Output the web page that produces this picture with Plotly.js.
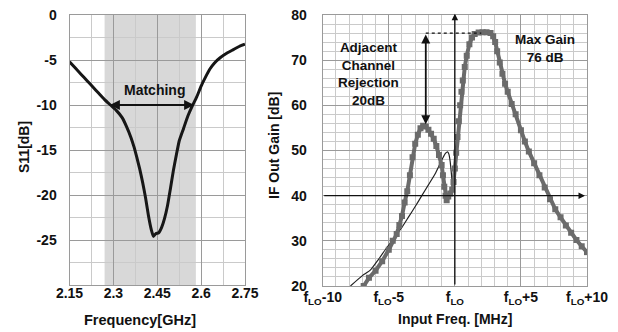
<!DOCTYPE html>
<html>
<head>
<meta charset="utf-8">
<script src="https://cdn.plot.ly/plotly-3.0.1.min.js"></script>
<style>html,body{margin:0;padding:0;background:#fff;}#chart{width:618px;height:332px;}
.xtick text,.ytick text,.x2tick text,.y2tick text{font-weight:700 !important;}</style>
</head>
<body>
<div id="chart"></div>
<script>
// ---- Left panel: S11 vs frequency ----
const s11Freq = [2.15,2.17,2.19,2.21,2.23,2.25,2.27,2.29,2.31,2.33,2.345,2.36,2.37,2.38,2.39,2.40,2.41,2.42,2.43,2.437,2.445,2.455,2.465,2.475,2.485,2.495,2.505,2.515,2.525,2.54,2.555,2.57,2.585,2.60,2.615,2.63,2.645,2.665,2.69,2.71,2.73,2.75];
const s11dB   = [-5.2,-5.9,-6.6,-7.3,-8.0,-8.7,-9.4,-10.0,-10.6,-11.4,-12.4,-13.6,-14.6,-15.8,-17.1,-18.6,-20.3,-22.3,-23.9,-24.6,-24.3,-24.2,-23.6,-22.6,-21.2,-19.3,-17.3,-15.6,-14.0,-12.6,-11.2,-10.1,-9.1,-7.9,-6.9,-6.0,-5.35,-4.75,-4.2,-3.85,-3.5,-3.25];
const freqTicks = [2.15,2.3,2.45,2.6,2.75];
const freqTickText = ["2.15","2.3","2.45","2.6","2.75"];
const s11Ticks = [0,-5,-10,-15,-20,-25];
const s11TickText = ["0","-5","-10","-15","-20","-25"];
const matchBand = [2.27, 2.582];
const matchLevel = -10;
const matchArrow = [2.283, 2.576];

// ---- Right panel: IF output gain vs input frequency ----
const measOffset = [-6.9,-6.5,-6.0,-5.5,-5.0,-4.7,-4.4,-4.2,-4.0,-3.8,-3.6,-3.4,-3.2,-3.0,-2.8,-2.6,-2.4,-2.2,-2.0,-1.8,-1.6,-1.4,-1.2,-1.0,-0.9,-0.8,-0.7,-0.62,-0.5,-0.35,-0.2,-0.1,0.0,0.1,0.2,0.3,0.4,0.5,0.6,0.75,0.9,1.1,1.3,1.5,1.8,2.1,2.4,2.7,2.9,3.05,3.2,3.4,3.6,3.8,4.0,4.3,4.6,5.0,5.3,5.6,6.0,6.4,6.8,7.2,7.6,8.0,8.4,8.8,9.2,9.6,10.0];
const measGain   = [20,21.8,23.4,25.5,28.0,30.0,31.5,33.5,35.5,38.5,41.0,44.5,48.5,51.5,53.5,54.9,55.5,55.3,54.6,53.7,52.6,51.0,49.0,46.8,44.5,42.0,40.0,39.0,39.8,40.5,41.3,43.0,46.0,49.5,53.0,56.5,60.0,63.0,65.5,68.5,71.0,73.5,75.0,75.8,76.1,76.2,76.2,76.0,75.3,74.0,72.0,69.5,67.0,64.8,63.0,60.3,58.0,54.5,52.0,49.8,47.2,44.5,41.8,39.2,37.0,35.2,33.4,31.8,30.2,28.8,27.5];
const simOffset  = [-7.9,-7.0,-6.4,-5.8,-5.2,-4.6,-4.0,-3.5,-3.0,-2.5,-2.0,-1.5,-1.15,-0.9,-0.7,-0.55,-0.45,-0.35,-0.25,-0.15,-0.05,0.05,0.12];
const simGain    = [20,22.3,23.5,25.8,28.3,30.6,33.0,35.3,37.6,40.0,42.4,44.8,46.9,48.4,49.4,49.7,49.2,47.5,44.5,41.8,42.5,47.0,51.0];
const ifTicks = [-10,-5,0,5,10];
const ifTickText = ["f<sub>LO</sub>-10","f<sub>LO</sub>-5","f<sub>LO</sub>","f<sub>LO</sub>+5","f<sub>LO</sub>+10"];
const gainTicks = [20,30,40,50,60,70,80];
const gainTickText = ["20","30","40","50","60","70","80"];
const maxGain = 76;
const adjPeak = 55.8;
const refX = -2.2;
const flatEnd = 2.0;

const FONT = "Liberation Sans, Arial, sans-serif";
const MAJ = "#9a9a9a", MIN = "#cacaca";
const W = 618, H = 332;
const px = v => v / W, py = v => (H - v) / H;
const bold = arr => arr.map(s => "<b>" + s + "</b>");

function axisBase(extra) {
  return Object.assign({
    showgrid: true, gridcolor: MAJ, gridwidth: 1,
    zeroline: false, showline: true, linecolor: MAJ, linewidth: 1, mirror: true,
    ticks: "", fixedrange: true,
    tickfont: {family: FONT, size: 14, color: "#111", weight: 700}
  }, extra);
}

const traces = [
  {x: s11Freq, y: s11dB, xaxis: "x", yaxis: "y", mode: "lines",
   line: {color: "#161616", width: 3, shape: "spline", smoothing: 0.4}, hoverinfo: "skip"},
  {x: simOffset, y: simGain, xaxis: "x2", yaxis: "y2", mode: "lines",
   line: {color: "#222", width: 1.2, shape: "spline", smoothing: 0.5}, hoverinfo: "skip"},
  {x: measOffset, y: measGain, xaxis: "x2", yaxis: "y2", mode: "lines+markers",
   line: {color: "#6b6b6b", width: 4},
   marker: {symbol: "square", size: 6, color: "#6b6b6b"}, hoverinfo: "skip"}
];

const txt = (o) => Object.assign({showarrow: false, xanchor: "center", yanchor: "middle"}, o);

const layout = {
  width: W, height: H,
  margin: {l: 0, r: 0, t: 0, b: 0},
  paper_bgcolor: "#fff", plot_bgcolor: "#fff",
  showlegend: false,
  font: {family: FONT, color: "#111"},
  xaxis: axisBase({domain: [px(69.5), px(245)], range: [2.15, 2.75],
    tickvals: freqTicks, ticktext: bold(freqTickText), ticklabelstandoff: -5,
    minor: {tick0: 2.15, dtick: 0.075, showgrid: true, gridcolor: MIN, gridwidth: 1}}),
  yaxis: axisBase({domain: [py(285), py(15)], range: [-30, 0],
    tickvals: s11Ticks, ticktext: bold(s11TickText), ticklabelstandoff: 9,
    minor: {tick0: 0, dtick: 2.5, showgrid: true, gridcolor: MIN, gridwidth: 1}}),
  xaxis2: axisBase({anchor: "y2", domain: [px(322.7), px(587)], range: [-10, 10],
    tickvals: ifTicks, ticktext: bold(ifTickText), ticklabelstandoff: -2,
    minor: {tick0: -10, dtick: 1, showgrid: true, gridcolor: MIN, gridwidth: 1}}),
  yaxis2: axisBase({anchor: "x2", domain: [py(286), py(15)], range: [20, 80],
    tickvals: gainTicks, ticktext: bold(gainTickText), ticklabelstandoff: 12,
    minor: {tick0: 20, dtick: 2, showgrid: true, gridcolor: MIN, gridwidth: 1}}),
  shapes: [
    {type: "rect", xref: "x", yref: "y", x0: matchBand[0], x1: matchBand[1], y0: -30, y1: 0,
     fillcolor: "#d8d8d8", line: {width: 0}, layer: "below"},
    {type: "line", xref: "x2", yref: "y2", x0: refX, x1: flatEnd, y0: maxGain, y1: maxGain,
     line: {color: "#111", width: 1.2, dash: "dot"}}
  ],
  annotations: [
    // left panel
    {xref: "x", yref: "y", x: matchArrow[1], y: matchLevel, ax: matchArrow[0], ay: matchLevel,
     axref: "x", ayref: "y", text: "", showarrow: true, arrowside: "end+start",
     arrowhead: 2, arrowsize: 1, arrowwidth: 2, arrowcolor: "#111"},
    txt({xref: "x", yref: "y", x: 2.442, y: -8.35, text: "<b>Matching</b>",
     font: {family: FONT, size: 14, color: "#111"}}),
    txt({xref: "paper", yref: "paper", x: px(24), y: py(147), text: "<b>S11[dB]</b>", textangle: -90,
     font: {family: FONT, size: 14, color: "#111"}}),
    txt({xref: "paper", yref: "paper", x: px(139.5), y: py(320), text: "<b>Frequency[GHz]</b>",
     font: {family: FONT, size: 14.5, color: "#111"}}),
    // right panel
    {xref: "x2", yref: "y2", x: 9.85, y: 40, ax: -10, ay: 40, axref: "x2", ayref: "y2",
     text: "", showarrow: true, arrowhead: 2, arrowsize: 1, arrowwidth: 1.3, arrowcolor: "#111"},
    {xref: "x2", yref: "y2", x: 0, y: 80.3, ax: 0, ay: 20, axref: "x2", ayref: "y2",
     text: "", showarrow: true, arrowhead: 2, arrowsize: 1, arrowwidth: 1.3, arrowcolor: "#111"},
    {xref: "x2", yref: "y2", x: refX, y: adjPeak, ax: refX, ay: maxGain, axref: "x2", ayref: "y2",
     text: "", showarrow: true, arrowside: "end+start", arrowhead: 2, arrowsize: 1,
     arrowwidth: 1.8, arrowcolor: "#111"},
    txt({xref: "x2", yref: "y2", x: -6.57, y: 66.9,
     text: "<b>Adjacent<br>Channel<br>Rejection<br>20dB</b>",
     font: {family: FONT, size: 13.5, color: "#111"}}),
    txt({xref: "x2", yref: "y2", x: 6.85, y: 72.6, text: "<b>Max Gain<br>76 dB</b>",
     font: {family: FONT, size: 13.5, color: "#111"}}),
    txt({xref: "paper", yref: "paper", x: px(274), y: py(146), text: "<b>IF Out Gain [dB]</b>", textangle: -90,
     font: {family: FONT, size: 14, color: "#111"}}),
    txt({xref: "paper", yref: "paper", x: px(455), y: py(319), text: "<b>Input Freq. [MHz]</b>",
     font: {family: FONT, size: 14, color: "#111"}})
  ]
};

Plotly.newPlot("chart", traces, layout, {staticPlot: true, displayModeBar: false});
</script>
</body>
</html>
